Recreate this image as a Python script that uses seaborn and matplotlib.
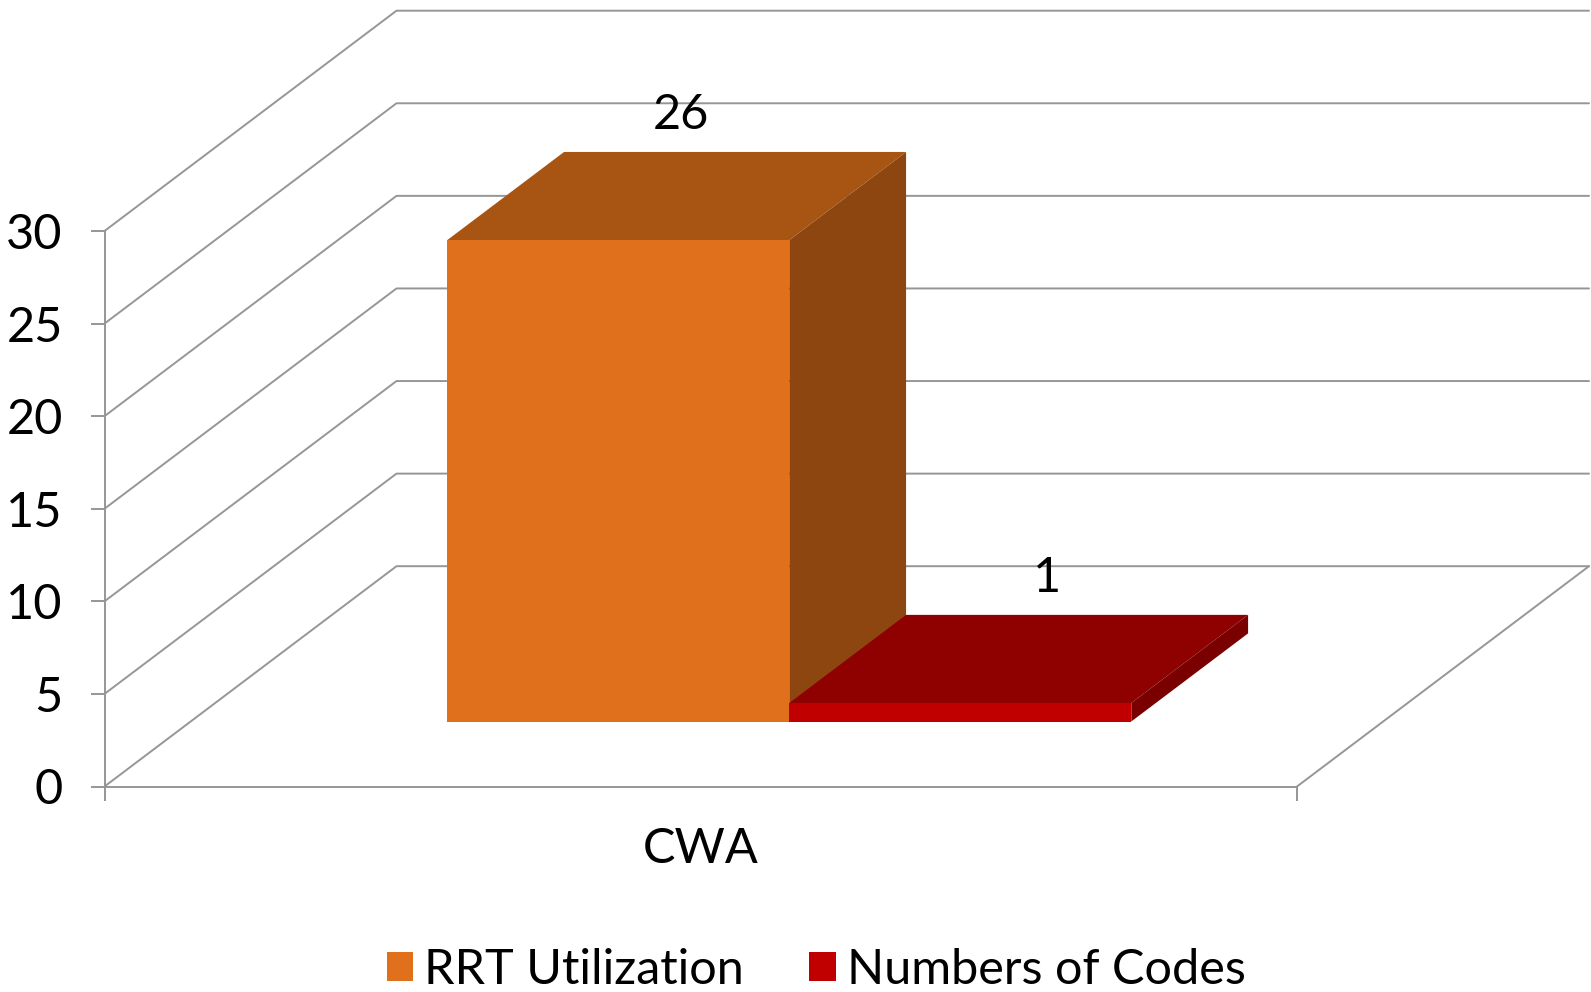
import matplotlib
matplotlib.use("Agg")
import matplotlib.pyplot as plt
from matplotlib.patches import Polygon, Rectangle
from matplotlib.transforms import Affine2D
import pandas as pd
import seaborn as sns

categories = ["CWA"]
series_names = ["RRT Utilization", "Numbers of Codes"]
rrt_values = [26]
code_values = [1]
y_ticks = [0, 5, 10, 15, 20, 25, 30]

FRONT = ["#E1701C", "#C00000"]
TOP = ["#A85514", "#8F0000"]
SIDE = ["#8E4610", "#7A0000"]
GRID = "#969696"
FS = 35

W, H = 1591, 992
sns.set_theme(style="white")
plt.rcParams["font.family"] = ["Lato", "DejaVu Sans"]

fig = plt.figure(figsize=(W / 100, H / 100), dpi=100)
left, right, bottom, top = 104.5, 1297, 786.5, 231
ax = fig.add_axes([left / W, 1 - bottom / H, (right - left) / W, (bottom - top) / H])
ax.patch.set_alpha(0)

df = pd.DataFrame({
    "category": categories * 2,
    "series": series_names,
    "value": rrt_values + code_values,
})
sns.barplot(data=df, x="category", y="value", hue="series", palette=FRONT,
            width=0.5736, gap=0, saturation=1, dodge=True, legend=False, ax=ax, zorder=5,
            linewidth=0, edgecolor="none")
ax.set_xlim(-0.5, 0.5)
ax.set_ylim(0, 30)

# Oblique depth: one full unit of depth expressed in data units
dx_full = 292 / (right - left)
dy_full = 220.3 / (bottom - top) * 30
bar_d0, bar_d1 = 0.295, 0.695
bar_nudge = 0.002
label_depth = [0.535, 0.74]


def shift(x, y, d):
    return x + d * dx_full + bar_nudge * (d > 0 and d < 1), y + d * dy_full


# Walls and floor (no upright line on the back wall)
for tick in y_ticks:
    pts = [shift(-0.5, tick, 0), shift(-0.5, tick, 1), shift(0.5, tick, 1)]
    ax.plot(*zip(*pts), color=GRID, lw=1.4, clip_on=False, zorder=1)
ax.plot(*zip(shift(0.5, 0, 0), shift(0.5, 0, 1)), color=GRID, lw=1.4, clip_on=False, zorder=1)

# Extrude each bar from the front face seaborn drew
tx, ty = shift(0, 0, bar_d0)
offset = Affine2D().translate(tx, ty) + ax.transData
for i, bar in enumerate(ax.patches[:2]):
    bar.set_transform(offset)
    bar.set_clip_on(False)
    bar.set_linewidth(0)
    x0, x1 = bar.get_x(), bar.get_x() + bar.get_width()
    h = bar.get_height()
    a = shift(x0, h, bar_d0)
    b = shift(x1, h, bar_d0)
    c = shift(x1, h, bar_d1)
    e = shift(x0, h, bar_d1)
    f = shift(x1, 0, bar_d0)
    g = shift(x1, 0, bar_d1)
    z = 3 + i * 0.5
    ax.add_patch(Polygon([a, b, c, e], closed=True, fc=TOP[i], ec="none", clip_on=False, zorder=z))
    ax.add_patch(Polygon([b, f, g, c], closed=True, fc=SIDE[i], ec="none", clip_on=False, zorder=z))
    tip = shift((x0 + x1) / 2, h, bar_d0 + (bar_d1 - bar_d0) * label_depth[i])
    ax.text(tip[0], shift(0, h, bar_d1)[1] + 0.83, str(int(h)), ha="center", va="bottom", fontsize=FS,
            color="black", zorder=8, clip_on=False)

sns.despine(ax=ax, top=True, right=True)
for s in ["left", "bottom"]:
    ax.spines[s].set_color(GRID)
    ax.spines[s].set_linewidth(1.4)
ax.set_yticks(y_ticks)
ax.set_xticks([-0.5, 0.5])
ax.set_xticklabels([])
ax.tick_params(axis="both", length=10, width=1.4, color=GRID, bottom=True, left=True, labelsize=FS,
               labelcolor="black", pad=20)
ax.set_xlabel("")
ax.set_ylabel("")
ax.text(0.0, -0.112, categories[0], transform=ax.get_xaxis_transform(), ha="center", va="center",
        fontsize=FS, color="black")

handles = [Rectangle((0, 0), 1, 1, fc=c, ec="none") for c in FRONT]
fig.legend(handles, series_names, loc="lower center", bbox_to_anchor=(0.513, -0.044), ncol=2, frameon=False,
           fontsize=FS, labelcolor="black", handlelength=0.54, handleheight=0.54, handletextpad=0.23,
           columnspacing=1.35)

fig.savefig("out.png", dpi=100)
